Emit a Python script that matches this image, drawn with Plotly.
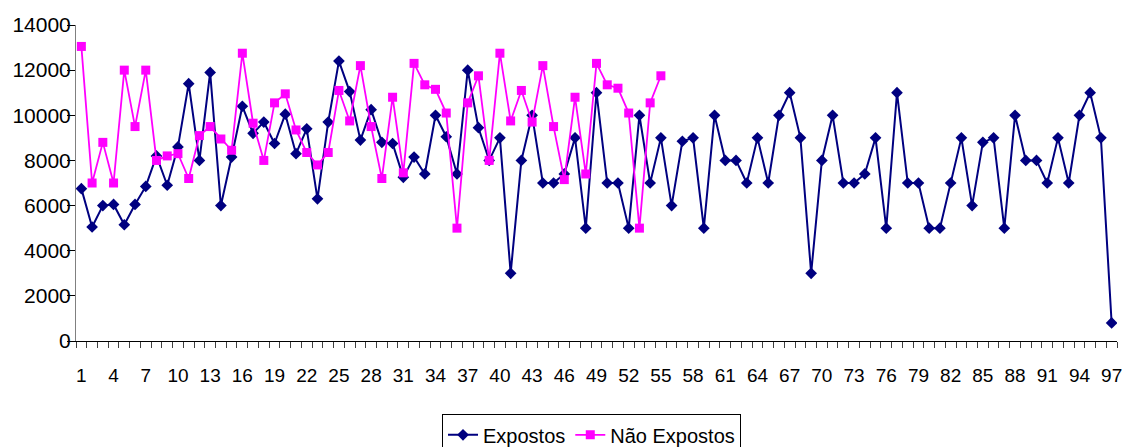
import plotly.graph_objects as go

# Sample index 1..97
indices = list(range(1, 98))

expostos = [
    6750, 5050, 6000, 6050, 5150, 6050, 6850, 8200, 6900, 8600,
    11400, 8000, 11900, 6000, 8150, 10400, 9200, 9700, 8750, 10050,
    8300, 9400, 6300, 9700, 12400, 11050, 8900, 10250, 8800, 8750,
    7250, 8150, 7400, 10000, 9050, 7400, 12000, 9450, 8000, 9000,
    3000, 8000, 10000, 7000, 7000, 7400, 9000, 5000, 11000, 7000,
    7000, 5000, 10000, 7000, 9000, 6000, 8850, 9000, 5000, 10000,
    8000, 8000, 7000, 9000, 7000, 10000, 11000, 9000, 3000, 8000,
    10000, 7000, 7000, 7400, 9000, 5000, 11000, 7000, 7000, 5000,
    5000, 7000, 9000, 6000, 8800, 9000, 5000, 10000, 8000, 8000,
    7000, 9000, 7000, 10000, 11000, 9000, 800,
]

nao_expostos = [
    13050, 7000, 8800, 7000, 12000, 9500, 12000, 8000, 8200, 8300,
    7200, 9100, 9500, 8950, 8450, 12750, 9650, 8000, 10550, 10950,
    9350, 8350, 7800, 8350, 11100, 9750, 12200, 9500, 7200, 10800,
    7450, 12300, 11350, 11150, 10100, 5000, 10550, 11750, 8000, 12750,
    9750, 11100, 9700, 12200, 9500, 7150, 10800, 7400, 12300, 11350,
    11200, 10100, 5000, 10550, 11750,
]

label_vals = list(range(1, 98, 3))
y_ticks = list(range(0, 14001, 2000))

font_family = "Liberation Sans, Arial, sans-serif"
x_range = [0.5, 97.5]

fig = go.Figure()
fig.add_trace(go.Scatter(
    x=indices, y=expostos, name="Expostos", mode="lines+markers",
    line=dict(color="#000080", width=2),
    marker=dict(symbol="diamond", size=9, color="#000080"),
))
# second series sits on the labelled overlay axis (same range as the base axis)
fig.add_trace(go.Scatter(
    x=indices[:len(nao_expostos)], y=nao_expostos, name="Não Expostos",
    mode="lines+markers", xaxis="x2",
    line=dict(color="#FF00FF", width=1.8),
    marker=dict(symbol="square", size=9, color="#FF00FF"),
))

fig.update_layout(
    width=1129, height=447,
    margin=dict(l=76, r=12, t=25, b=106, autoexpand=False),
    paper_bgcolor="white", plot_bgcolor="white",
    font=dict(family=font_family, color="black"),
    showlegend=True,
    legend=dict(
        orientation="h", x=0.3516, xanchor="left", y=-0.232, yanchor="top",
        bordercolor="black", borderwidth=1, font=dict(size=20),
        itemsizing="trace", tracegroupgap=0,
    ),
    # base axis: tick marks on category boundaries, no labels
    xaxis=dict(
        range=x_range, tickmode="linear", tick0=0.5, dtick=1,
        ticks="outside", ticklen=6, tickcolor="#404040", tickwidth=1,
        showticklabels=False,
        showline=True, linecolor="black", linewidth=1,
        showgrid=False, zeroline=False, automargin=False,
    ),
    # overlay axis: category labels every third sample
    xaxis2=dict(
        range=x_range, overlaying="x", side="bottom", anchor="y",
        tickmode="array", tickvals=label_vals,
        ticktext=[str(v) for v in label_vals], ticks="",
        showline=False, showgrid=False, zeroline=False, automargin=False,
        tickfont=dict(size=19), ticklabelstandoff=21,
    ),
    yaxis=dict(
        range=[0, 14000], tickmode="array", tickvals=y_ticks,
        ticktext=[str(v) for v in y_ticks],
        ticks="outside", ticklen=8, tickcolor="black",
        showline=True, linecolor="#808080", linewidth=1,
        showgrid=False, zeroline=False, automargin=False,
        tickfont=dict(size=21), ticklabelstandoff=-8,
    ),
)

fig.write_html("out.html")
